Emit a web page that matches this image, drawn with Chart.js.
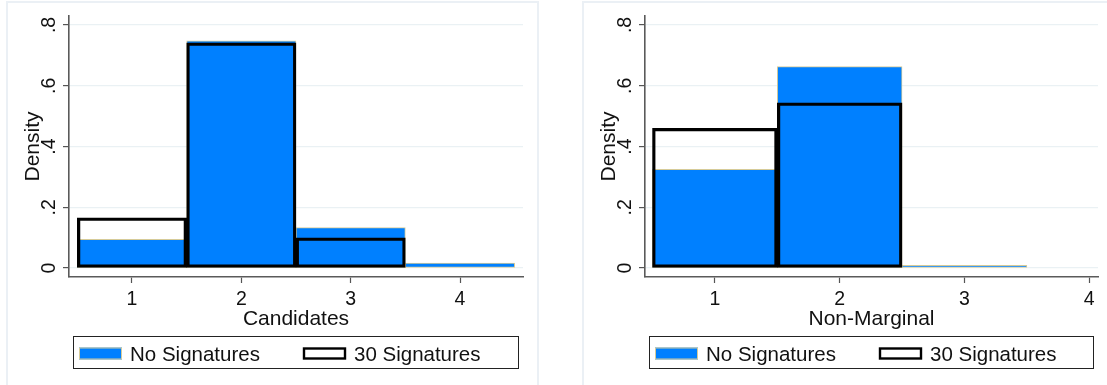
<!DOCTYPE html>
<html lang="en">
<head>
  <meta charset="UTF-8" />
  <title>Density histograms - Candidates / Non-Marginal</title>
  <script src="https://cdn.jsdelivr.net/npm/chart.js"></script>
  <style>
    body {
      margin: 0;
      background: #fff;
      overflow: hidden;
      width: 1107px;
      height: 385px;
      position: relative;
    }
    .panel {
      position: absolute;
      top: 1px;
      width: 529px;
      height: 390px;
      border: 2px solid #ebf0f5;
      background: #fff;
    }
    #p1 { left: 6px; }
    #p2 { left: 582px; }
  </style>
</head>
<body>
  <div class="panel" id="p1"><canvas id="chartCand" width="529" height="385"></canvas></div>
  <div class="panel" id="p2"><canvas id="chartNM" width="529" height="385"></canvas></div>

  <script>
    // values (density)
    const seriesNames = ['No Signatures', '30 Signatures'];

    const candBins = [1, 2, 3, 4];
    const candNoSig = [0.094, 0.748, 0.133, 0.016];
    const cand30Sig = [0.165, 0.741, 0.099, 0];

    const nmBins = [1, 2, 3];
    const nmNoSig = [0.325, 0.663, 0.009];
    const nm30Sig = [0.46, 0.544, 0];

    const xTicks = [1, 2, 3, 4];
    const yTicks = [0, 0.2, 0.4, 0.6, 0.8];
    const yTickLabels = ['0', '.2', '.4', '.6', '.8'];

    const BLUE = '#0080ff';
    const FAMILY = '"Liberation Sans", Arial, sans-serif';

    // Stata-ish text: rotated y labels, axis titles, boxed legend
    const stataText = {
      id: 'stataText',
      afterDraw(chart) {
        const { ctx, chartArea: a, scales: { x, y } } = chart;
        const title = chart.options.plugins.stataText.xTitle;
        ctx.save();
        ctx.fillStyle = '#111';
        ctx.textBaseline = 'alphabetic';
        ctx.textAlign = 'center';

        ctx.font = '19.5px ' + FAMILY;
        xTicks.forEach(v => ctx.fillText(String(v), x.getPixelForValue(v), a.bottom + 28));

        yTicks.forEach((v, i) => {
          ctx.save();
          ctx.translate(a.left - 14.5, y.getPixelForValue(v));
          ctx.rotate(-Math.PI / 2);
          ctx.fillText(yTickLabels[i], 0, 0);
          ctx.restore();
        });

        ctx.font = '21px ' + FAMILY;
        ctx.fillText(title, (a.left + a.right) / 2, a.bottom + 47.5);

        ctx.save();
        ctx.translate(a.left - 30, (a.top + a.bottom) / 2);
        ctx.rotate(-Math.PI / 2);
        ctx.fillText('Density', 0, 0);
        ctx.restore();

        // legend
        const L = a.left, B = a.bottom;
        ctx.strokeStyle = '#222';
        ctx.lineWidth = 1;
        ctx.strokeRect(L + 4.5, B + 59.5, a.right - 5 - (L + 4), 32);

        ctx.fillStyle = BLUE;
        ctx.fillRect(L + 10, B + 70.5, 43, 12);
        ctx.strokeStyle = '#d6cb98';
        ctx.strokeRect(L + 10.5, B + 71, 42, 11);

        ctx.fillStyle = '#fff';
        ctx.fillRect(L + 234, B + 70.5, 43, 12);
        ctx.strokeStyle = '#000';
        ctx.lineWidth = 2.4;
        ctx.strokeRect(L + 235, B + 71.5, 41, 10);

        ctx.font = '20.5px ' + FAMILY;
        ctx.fillStyle = '#111';
        ctx.textAlign = 'left';
        ctx.fillText(seriesNames[0], L + 61, B + 84);
        ctx.fillText(seriesNames[1], L + 285, B + 84);
        ctx.restore();
      }
    };

    function makeChart(id, bins, noSig, sig30, xMin, xMax, xTitle, padRight) {
      new Chart(document.getElementById(id), {
        type: 'bar',
        data: {
          datasets: [
            {
              label: seriesNames[0],
              data: bins.map((b, i) => ({ x: b, y: noSig[i] })),
              backgroundColor: BLUE,
              borderColor: '#d6cb98',
              borderWidth: 1,
              borderSkipped: false,
              grouped: false,
              order: 2
            },
            {
              label: seriesNames[1],
              data: bins.map((b, i) => ({ x: b, y: sig30[i] })),
              backgroundColor: 'rgba(0,0,0,0)',
              borderColor: '#000',
              borderWidth: 2.6,
              borderSkipped: false,
              grouped: false,
              order: 1
            }
          ]
        },
        options: {
          responsive: false,
          animation: false,
          devicePixelRatio: 1,
          barPercentage: 1,
          categoryPercentage: 1,
          layout: { padding: { left: 61, right: padRight, top: 13, bottom: 111 } },
          plugins: {
            legend: { display: false },
            tooltip: { enabled: false },
            stataText: { xTitle }
          },
          scales: {
            x: {
              type: 'linear',
              min: xMin,
              max: xMax,
              offset: false,
              afterBuildTicks: s => { s.ticks = xTicks.map(v => ({ value: v })); },
              afterFit: s => { s.height = 0; },
              ticks: { display: false },
              grid: {
                offset: false,
                drawOnChartArea: false,
                drawTicks: true,
                tickLength: 6,
                tickColor: '#555',
                tickWidth: 1.2
              },
              border: { color: '#5a5a5a', width: 1.6 }
            },
            y: {
              min: -0.0296,
              max: 0.8296,
              afterBuildTicks: s => { s.ticks = yTicks.map(v => ({ value: v })); },
              afterFit: s => { s.width = 0; },
              ticks: { display: false },
              grid: {
                color: '#eaf1f4',
                lineWidth: 1.2,
                drawTicks: true,
                tickLength: 6,
                tickColor: '#555',
                tickWidth: 1.2
              },
              border: { color: '#5a5a5a', width: 1.6 }
            }
          }
        },
        plugins: [stataText]
      });
    }

    makeChart('chartCand', candBins, candNoSig, cand30Sig, 0.424, 4.576, 'Candidates', 14);
    makeChart('chartNM', nmBins, nmNoSig, nm30Sig, 0.44, 4.07, 'Non-Marginal', 15);
  </script>
</body>
</html>
